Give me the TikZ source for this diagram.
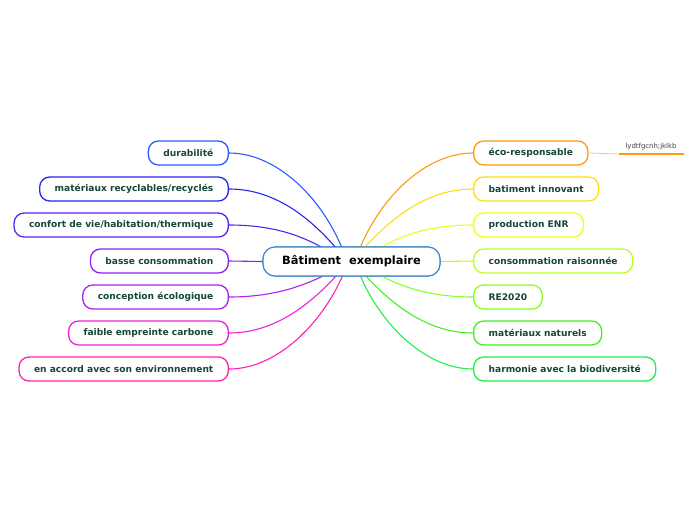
\documentclass[tikz,border=0pt]{standalone}
\usepackage{fontspec}
\setmainfont{DejaVu Sans}
\definecolor{txt}{HTML}{17463A}
\definecolor{cblue}{HTML}{3A86C8}
\definecolor{l1}{HTML}{2A5BFF}
\definecolor{l2}{HTML}{2626F0}
\definecolor{l3}{HTML}{5A22F0}
\definecolor{l4}{HTML}{8A22F0}
\definecolor{l5}{HTML}{B022F0}
\definecolor{l6}{HTML}{F022D8}
\definecolor{l7}{HTML}{FF22B0}
\definecolor{r1}{HTML}{FF9A10}
\definecolor{r2}{HTML}{FFDD10}
\definecolor{r3}{HTML}{EEFF10}
\definecolor{r4}{HTML}{B8FF22}
\definecolor{r5}{HTML}{88FF22}
\definecolor{r6}{HTML}{44EE22}
\definecolor{r7}{HTML}{22EE44}
\definecolor{subl}{HTML}{FFC880}
\tikzset{
  topic/.style={draw=#1, line width=1.3pt, rounded corners=10pt, fill=white,
    minimum height=24pt, inner xsep=15pt, inner ysep=0pt, text=txt,
    font=\fontsize{9.1}{10}\selectfont\bfseries},
  central/.style={draw=cblue, line width=1.1pt, rounded corners=12pt, fill=white,
    minimum height=29pt, minimum width=177pt, inner ysep=0pt,
    font=\fontsize{11.4}{13}\selectfont\bfseries},
  link/.style={draw=#1, line width=1.1pt},
}
\begin{document}
\begin{tikzpicture}[x=1pt,y=1pt]
\useasboundingbox (0,0) rectangle (696,-520);
% central
\node[central] (c) at (351.5,-261.5) {Bâtiment\ \ exemplaire};
\coordinate (sl1) at (342,-248);
\coordinate (sl2) at (336,-248);
\coordinate (sl3) at (323,-248);
\coordinate (sl5) at (325,-275);
\coordinate (sl6) at (337,-275);
\coordinate (sl7) at (343,-275);
\coordinate (sr1) at (360,-248);
\coordinate (sr2) at (364,-248);
\coordinate (sr3) at (380,-248);
\coordinate (sr5) at (380,-275);
\coordinate (sr6) at (365,-275);
\coordinate (sr7) at (360,-275);
% left nodes
\node[topic=l1, anchor=east] (a1) at (229,-153) {durabilité};
\node[topic=l2, anchor=east] (a2) at (229,-189) {matériaux recyclables/recyclés};
\node[topic=l3, anchor=east] (a3) at (229,-225) {confort de vie/habitation/thermique};
\node[topic=l4, anchor=east] (a4) at (229,-261) {basse consommation};
\node[topic=l5, anchor=east] (a5) at (229,-297) {conception écologique};
\node[topic=l6, anchor=east] (a6) at (229,-333) {faible empreinte carbone};
\node[topic=l7, anchor=east] (a7) at (229,-369) {en accord avec son environnement};
% right nodes
\node[topic=r1, anchor=west] (b1) at (473,-153) {éco-responsable};
\node[topic=r2, anchor=west] (b2) at (473,-189) {batiment innovant};
\node[topic=r3, anchor=west] (b3) at (473,-225) {production ENR};
\node[topic=r4, anchor=west] (b4) at (473,-261) {consommation raisonnée};
\node[topic=r5, anchor=west] (b5) at (473,-297) {RE2020};
\node[topic=r6, anchor=west] (b6) at (473,-333) {matériaux naturels};
\node[topic=r7, anchor=west] (b7) at (473,-369) {harmonie avec la biodiversité};
% links left
\draw[link=l1] (sl1) .. controls (320,-195) and (275,-153) .. (a1.east);
\draw[link=l2] (sl2) .. controls (305,-212) and (270,-189) .. (a2.east);
\draw[link=l3] (sl3) .. controls (295,-232) and (265,-225) .. (a3.east);
\draw[link=l4] (c.west) -- (a4.east);
\draw[link=l5] (sl5) .. controls (295,-290) and (265,-297) .. (a5.east);
\draw[link=l6] (sl6) .. controls (305,-310) and (270,-333) .. (a6.east);
\draw[link=l7] (sl7) .. controls (320,-327) and (275,-369) .. (a7.east);
% links right
\draw[link=r1] (sr1) .. controls (382,-195) and (427,-153) .. (b1.west);
\draw[link=r2] (sr2) .. controls (397,-212) and (432,-189) .. (b2.west);
\draw[link=r3] (sr3) .. controls (407,-232) and (437,-225) .. (b3.west);
\draw[link=r4] (c.east) -- (b4.west);
\draw[link=r5] (sr5) .. controls (407,-290) and (437,-297) .. (b5.west);
\draw[link=r6] (sr6) .. controls (397,-310) and (432,-333) .. (b6.west);
\draw[link=r7] (sr7) .. controls (382,-327) and (427,-369) .. (b7.west);
% redraw central on top
\node[central] at (c) {Bâtiment\ \ exemplaire};
% subtopic
\node[font=\fontsize{6.9}{8}\selectfont, text=black!75, inner sep=1pt] (s1) at (651,-147) {lydtfgcnh;jklkb};
\coordinate (s1l) at (619,-154);
\coordinate (s1r) at (684,-154);
\draw[subl, line width=0.9pt] (b1.east) -- (s1l);
\draw[r1, line width=2pt] (s1l) -- (s1r);
\end{tikzpicture}
\end{document}
